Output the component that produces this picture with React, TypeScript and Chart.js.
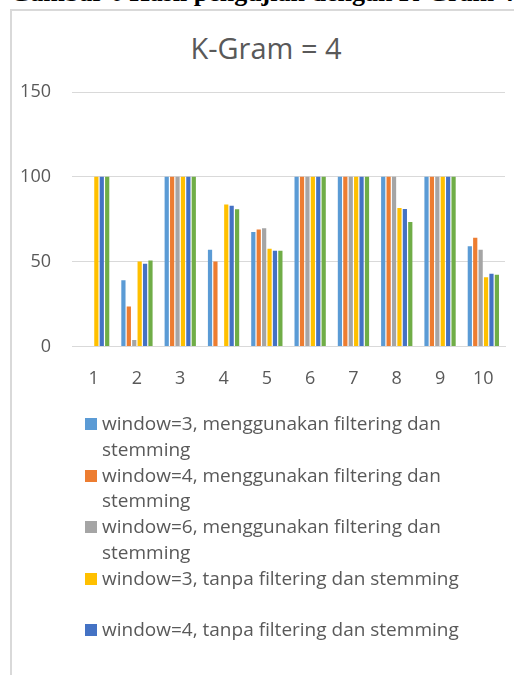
import React, { useEffect, useRef } from 'react';
import { Chart, registerables } from 'chart.js';

Chart.register(...registerables);

const FONT = '"Open Sans", "Noto Sans", sans-serif';
const TEXT_COLOR = '#595959';
const GRID_COLOR = '#d9d9d9';

const caption = 'Gambar 6 Hasil pengujian dengan K-Gram 4';
const chartTitle = 'K-Gram = 4';

const categories = ['1', '2', '3', '4', '5', '6', '7', '8', '9', '10'];

const seriesNames = [
  'window=3, menggunakan filtering dan stemming',
  'window=4, menggunakan filtering dan stemming',
  'window=6, menggunakan filtering dan stemming',
  'window=3, tanpa filtering dan stemming',
  'window=4, tanpa filtering dan stemming',
  'window=6, tanpa filtering dan stemming',
];

const seriesColors = ['#5B9BD5', '#ED7D31', '#A5A5A5', '#FFC000', '#4472C4', '#70AD47'];

const w3Filtered = [0, 39, 100, 57, 67.5, 100, 100, 100, 100, 59];
const w4Filtered = [0, 23.5, 100, 50, 69, 100, 100, 100, 100, 64];
const w6Filtered = [0, 3.8, 100, 0, 69.7, 100, 100, 100, 100, 57];
const w3Raw = [100, 50, 100, 83.7, 57.6, 100, 100, 81.6, 100, 40.8];
const w4Raw = [100, 48.7, 100, 83, 56.4, 100, 100, 81, 100, 42.8];
const w6Raw = [100, 50.6, 100, 80.8, 56.4, 100, 100, 73.3, 100, 42.2];

const seriesValues = [w3Filtered, w4Filtered, w6Filtered, w3Raw, w4Raw, w6Raw];

const yTickValues = [0, 50, 100, 150];

export default function App() {
  const canvasRef = useRef<HTMLCanvasElement | null>(null);

  useEffect(() => {
    if (!canvasRef.current) return;
    const chart = new Chart(canvasRef.current, {
      type: 'bar',
      data: {
        labels: categories,
        datasets: seriesValues.map((values, i) => ({
          label: seriesNames[i],
          data: values,
          backgroundColor: seriesColors[i],
          borderWidth: 0,
          categoryPercentage: 0.75,
          barPercentage: 0.78,
        })),
      },
      options: {
        responsive: false,
        animation: false,
        layout: { padding: { left: 0, right: 15, top: 81, bottom: 0 } },
        plugins: {
          legend: { display: false },
          tooltip: { enabled: false },
          title: { display: false },
        },
        scales: {
          x: {
            grid: { display: false, drawTicks: false },
            border: { display: true, color: GRID_COLOR, width: 1 },
            ticks: {
              color: TEXT_COLOR,
              font: { family: FONT, size: 18 },
              padding: 22,
              maxRotation: 0,
            },
          },
          y: {
            min: yTickValues[0],
            max: yTickValues[yTickValues.length - 1],
            ticks: {
              stepSize: yTickValues[1] - yTickValues[0],
              color: TEXT_COLOR,
              font: { family: FONT, size: 18 },
              padding: 21,
            },
            grid: { color: GRID_COLOR, lineWidth: 1, drawTicks: false },
            border: { display: false },
            afterFit: (scale: any) => {
              scale.width = 60;
            },
          },
        },
      },
    });
    return () => chart.destroy();
  }, []);

  return (
    <div
      style={{
        position: 'fixed',
        left: 0,
        top: 0,
        width: 514,
        height: 675,
        overflow: 'hidden',
        background: '#fff',
      }}
    >
      <div
        style={{
          position: 'absolute',
          left: 10,
          top: -20,
          whiteSpace: 'nowrap',
          fontFamily: '"Liberation Serif", "Times New Roman", serif',
          fontWeight: 'bold',
          fontSize: 26,
          lineHeight: 1,
          color: '#000',
        }}
      >
        {caption}
      </div>
      <div
        style={{
          position: 'absolute',
          left: 10,
          top: 9,
          width: 600,
          height: 700,
          borderLeft: `2px solid ${GRID_COLOR}`,
          borderTop: `2px solid ${GRID_COLOR}`,
          background: '#fff',
        }}
      />
      <div
        style={{
          position: 'absolute',
          left: 0,
          width: 532,
          top: 33,
          textAlign: 'center',
          fontFamily: FONT,
          fontSize: 29,
          lineHeight: 1,
          color: TEXT_COLOR,
          whiteSpace: 'nowrap',
        }}
      >
        {chartTitle}
      </div>
      <canvas
        ref={canvasRef}
        width={508}
        height={401}
        style={{ position: 'absolute', left: 12, top: 11, width: 508, height: 401 }}
      />
      <div
        style={{
          position: 'absolute',
          left: 0,
          top: 405,
          width: 514,
          height: 255,
          overflow: 'hidden',
        }}
      >
        {seriesNames.map((name, i) => (
          <div
            key={name}
            style={{
              position: 'absolute',
              left: 85,
              top: 6 + i * 51.5,
              height: 51.5,
              display: 'flex',
              alignItems: 'flex-start',
            }}
          >
            <div
              style={{
                width: 12,
                height: 12,
                marginTop: 7,
                background: seriesColors[i],
                flex: '0 0 auto',
              }}
            />
            <div
              style={{
                marginLeft: 5,
                width: 365,
                fontFamily: FONT,
                fontSize: 19,
                lineHeight: '25.75px',
                color: TEXT_COLOR,
              }}
            >
              {name}
            </div>
          </div>
        ))}
      </div>
    </div>
  );
}
